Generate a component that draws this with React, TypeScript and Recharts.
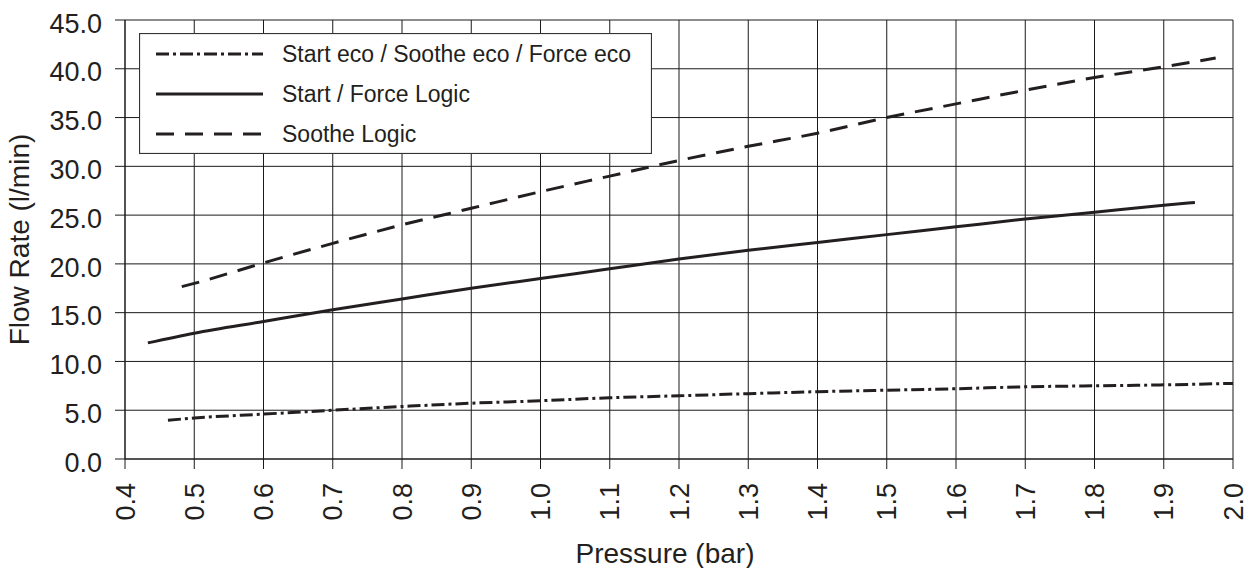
import React from "react";
import {
  LineChart,
  Line,
  XAxis,
  YAxis,
  CartesianGrid,
  Legend,
  Label,
} from "recharts";

// pressure (bar) / flow rate (l/min)
const ecoPressure = [0.462, 0.5, 0.6, 0.7, 0.8, 0.9, 1.0, 1.1, 1.2, 1.3, 1.4, 1.5, 1.6, 1.7, 1.8, 1.9, 2.0];
const ecoFlow = [3.97, 4.2, 4.6, 5.0, 5.38, 5.72, 5.97, 6.28, 6.48, 6.7, 6.9, 7.05, 7.2, 7.4, 7.5, 7.6, 7.75];

const logicPressure = [0.433, 0.5, 0.6, 0.7, 0.8, 0.9, 1.0, 1.1, 1.2, 1.3, 1.4, 1.5, 1.6, 1.7, 1.8, 1.9, 1.945];
const logicFlow = [11.9, 12.9, 14.1, 15.3, 16.4, 17.5, 18.5, 19.5, 20.5, 21.4, 22.2, 23.0, 23.8, 24.6, 25.3, 26.0, 26.3];

const sootheLogicPressure = [0.482, 0.5, 0.6, 0.7, 0.8, 0.9, 1.0, 1.1, 1.2, 1.3, 1.4, 1.5, 1.6, 1.7, 1.8, 1.9, 1.975];
const sootheLogicFlow = [17.67, 18.0, 20.1, 22.1, 24.0, 25.7, 27.4, 29.0, 30.6, 32.05, 33.4, 35.0, 36.4, 37.8, 39.1, 40.2, 41.1];

const xTicks = [0.4, 0.5, 0.6, 0.7, 0.8, 0.9, 1.0, 1.1, 1.2, 1.3, 1.4, 1.5, 1.6, 1.7, 1.8, 1.9, 2.0];
const yTicks = [0, 5, 10, 15, 20, 25, 30, 35, 40, 45];

const seriesNames = ["Start eco / Soothe eco / Force eco", "Start / Force Logic", "Soothe Logic"];

const toPoints = (xs: number[], ys: number[]) => xs.map((p, i) => ({ p, flow: ys[i] }));

const INK = "#231f20";
const FONT = "'Liberation Sans', Arial, sans-serif";
const dashes = ["13 4 3 4", undefined, "18 11"];

const series = [
  { name: seriesNames[0], data: toPoints(ecoPressure, ecoFlow), dash: dashes[0] },
  { name: seriesNames[1], data: toPoints(logicPressure, logicFlow), dash: dashes[1] },
  { name: seriesNames[2], data: toPoints(sootheLogicPressure, sootheLogicFlow), dash: dashes[2] },
];

const XTick = (props: any) => {
  const { x, y, payload } = props;
  return (
    <text
      transform={`translate(${x},${y + 12}) rotate(-90)`}
      textAnchor="end"
      dy="0.36em"
      fontSize={27}
      fontFamily={FONT}
      fill={INK}
    >
      {Number(payload.value).toFixed(1)}
    </text>
  );
};

const YTick = (props: any) => {
  const { x, y, payload } = props;
  return (
    <text x={x - 11} y={y + 3} dy="0.36em" textAnchor="end" fontSize={27} fontFamily={FONT} fill={INK}>
      {Number(payload.value).toFixed(1)}
    </text>
  );
};

const LegendBox = () => (
  <svg width={513} height={121} style={{ display: "block" }}>
    <rect x={0.5} y={0.5} width={512} height={120} fill="#fff" stroke="#333" strokeWidth={1.2} />
    {series.map((s, i) => {
      const cy = 21 + i * 40;
      return (
        <g key={s.name}>
          <line x1={17} x2={124} y1={cy} y2={cy} stroke={INK} strokeWidth={3} strokeDasharray={s.dash} />
          <text x={143} y={cy} dy="0.36em" fontSize={23} fontFamily={FONT} fill={INK}>
            {s.name}
          </text>
        </g>
      );
    })}
  </svg>
);

const App: React.FC = () => {
  return (
    <div>
      <style>{"body{margin:0}"}</style>
      <LineChart width={1255} height={568} margin={{ top: 20, right: 22, bottom: 0, left: 0 }}>
        <CartesianGrid stroke="#1a1a1a" strokeWidth={1} />
        <XAxis
          type="number"
          dataKey="p"
          domain={[0.4, 2.0]}
          ticks={xTicks}
          allowDataOverflow
          tickSize={10}
          tick={<XTick />}
          height={109}
          stroke="#1a1a1a"
        >
          <Label
            content={(props: any) => {
              const vb = props.viewBox;
              return (
                <text x={vb.x + vb.width / 2 - 14} y={563} textAnchor="middle" fontSize={28} fontFamily={FONT} fill={INK}>
                  Pressure (bar)
                </text>
              );
            }}
          />
        </XAxis>
        <YAxis
          type="number"
          domain={[0, 45]}
          ticks={yTicks}
          tickSize={10}
          tick={<YTick />}
          width={125}
          stroke="#1a1a1a"
        >
          <Label
            content={(props: any) => {
              const vb = props.viewBox;
              const cy = vb.y + vb.height / 2;
              return (
                <text
                  transform={`translate(29,${cy}) rotate(-90)`}
                  textAnchor="middle"
                  fontSize={28}
                  fontFamily={FONT}
                  fill={INK}
                >
                  Flow Rate (l/min)
                </text>
              );
            }}
          />
        </YAxis>
        {series.map((s) => (
          <Line
            key={s.name}
            data={s.data}
            dataKey="flow"
            name={s.name}
            type="monotone"
            stroke={INK}
            strokeWidth={3}
            strokeDasharray={s.dash}
            dot={false}
            activeDot={false}
            isAnimationActive={false}
          />
        ))}
        <Legend
          layout="horizontal"
          verticalAlign="middle"
          align="center"
          content={() => <LegendBox />}
          wrapperStyle={{ left: 139, top: 33, width: 513, height: 121 }}
        />
      </LineChart>
    </div>
  );
};

export default App;
